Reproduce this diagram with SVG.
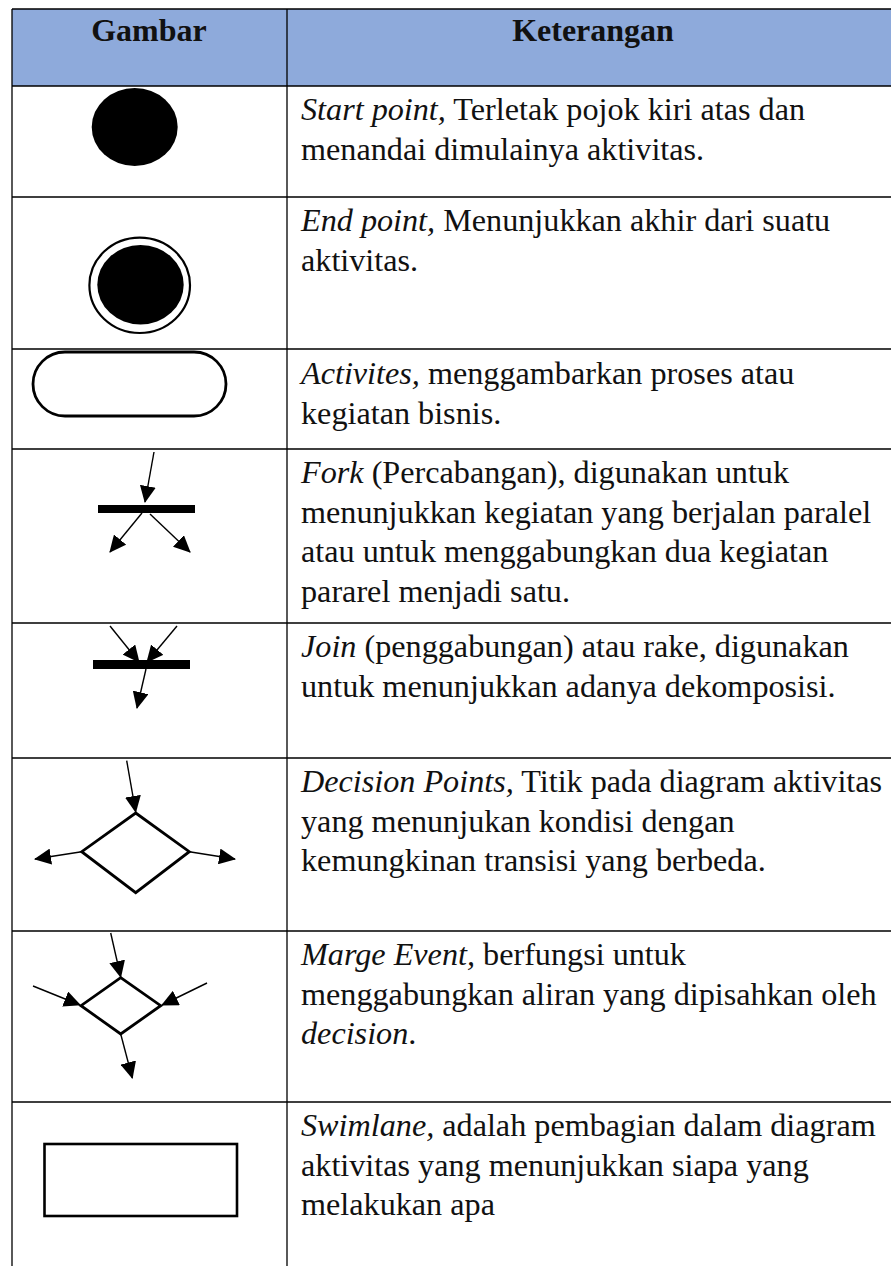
<svg xmlns="http://www.w3.org/2000/svg" width="891" height="1266" viewBox="0 0 891 1266">
  <defs>
    <style>
      .grid { stroke: #000; stroke-width: 1.3; fill: none; }
      .hdr { font-size: 32px; font-weight: bold; fill: #111; }
      .txt { font-size: 32.2px; fill: #111; }
      .it { font-style: italic; }
      .flow { stroke: #000; stroke-width: 1.4; fill: none; marker-end: url(#arrowhead); }
      .shape { stroke: #000; stroke-width: 2.8; fill: #fff; stroke-linejoin: miter; }
      .bar { fill: #000; }
    </style>
    <marker id="arrowhead" markerUnits="userSpaceOnUse" viewBox="0 0 17 16" markerWidth="17" markerHeight="16" refX="16" refY="8" orient="auto">
      <path d="M0,0 L17,8 L0,16 Z" fill="#000"/>
    </marker>
  </defs>

  <!-- table frame -->
  <g id="table">
    <rect x="12" y="9" width="879" height="77" fill="#8eaadb"/>
    <path class="grid" d="M12,9 H891 M12,86 H891 M12,197 H891 M12,349 H891 M12,449 H891 M12,623 H891 M12,758 H891 M12,931 H891 M12,1102 H891 M12,9 V1266 M287,9 V1266"/>
  </g>

  <!-- column headings -->
  <g id="header" font-family="Liberation Serif, Tinos, Times New Roman, Times, serif">
    <text class="hdr" x="149" y="41" text-anchor="middle">Gambar</text>
    <text class="hdr" x="593" y="41" text-anchor="middle">Keterangan</text>
  </g>

  <!-- symbol shapes -->
  <g id="start-point">
    <ellipse cx="134.7" cy="127" rx="43" ry="39" fill="#000"/>
  </g>

  <g id="end-point">
    <ellipse cx="139.7" cy="285.3" rx="50.3" ry="47.7" fill="none" stroke="#000" stroke-width="2.2"/>
    <ellipse cx="140.5" cy="284.7" rx="43.2" ry="39.7" fill="#000"/>
  </g>

  <g id="activity">
    <rect class="shape" x="33" y="352" width="193" height="64" rx="32" ry="32" stroke-width="2.2"/>
  </g>

  <g id="fork">
    <rect class="bar" x="98" y="505" width="97" height="8"/>
  </g>

  <g id="join">
    <rect class="bar" x="93" y="660" width="97" height="9"/>
  </g>

  <g id="decision">
    <path class="shape" d="M135.7,813 L189.3,851.7 L135.7,892.7 L81.7,851.7 Z"/>
  </g>

  <g id="merge">
    <path class="shape" d="M120.7,977.7 L160.7,1005.7 L120.7,1034 L81,1005.7 Z"/>
  </g>

  <g id="swimlane">
    <rect x="44.5" y="1144" width="192.5" height="72" fill="#fff" stroke="#000" stroke-width="2.6"/>
  </g>

  <!-- connectors -->
  <g id="connectors">
    <line class="flow" x1="154" y1="452" x2="145" y2="502"/>
    <line class="flow" x1="142" y1="513" x2="110" y2="552"/>
    <line class="flow" x1="150" y1="514" x2="190" y2="552"/>

    <line class="flow" x1="110" y1="626" x2="139" y2="662"/>
    <line class="flow" x1="177" y1="626" x2="147" y2="662"/>
    <line class="flow" x1="146" y1="669" x2="137" y2="708"/>

    <line class="flow" x1="126.7" y1="760.7" x2="135.7" y2="812"/>
    <line class="flow" x1="81.7" y1="851.7" x2="35" y2="859"/>
    <line class="flow" x1="189.3" y1="851.7" x2="235" y2="859"/>

    <line class="flow" x1="110.7" y1="933" x2="120.7" y2="977"/>
    <line class="flow" x1="33" y1="986" x2="80" y2="1005"/>
    <line class="flow" x1="207" y1="983" x2="162" y2="1005"/>
    <line class="flow" x1="120.7" y1="1034" x2="132.3" y2="1078"/>
  </g>

  <!-- descriptions -->
  <g id="descriptions" font-family="Liberation Serif, Tinos, Times New Roman, Times, serif">
    <text class="txt" x="301" y="120"><tspan class="it">Start point,</tspan> Terletak pojok kiri atas dan</text>
    <text class="txt" x="301" y="160">menandai dimulainya aktivitas.</text>

    <text class="txt" x="301" y="231"><tspan class="it">End point,</tspan> Menunjukkan akhir dari suatu</text>
    <text class="txt" x="301" y="271">aktivitas.</text>

    <text class="txt" x="301" y="384"><tspan class="it">Activites,</tspan> menggambarkan proses atau</text>
    <text class="txt" x="301" y="424">kegiatan bisnis.</text>

    <text class="txt" x="301" y="483"><tspan class="it">Fork</tspan> (Percabangan), digunakan untuk</text>
    <text class="txt" x="301" y="522.5">menunjukkan kegiatan yang berjalan paralel</text>
    <text class="txt" x="301" y="562">atau untuk menggabungkan dua kegiatan</text>
    <text class="txt" x="301" y="601.5">pararel menjadi satu.</text>

    <text class="txt" x="301" y="657"><tspan class="it">Join</tspan> (penggabungan) atau rake, digunakan</text>
    <text class="txt" x="301" y="696.5">untuk menunjukkan adanya dekomposisi.</text>

    <text class="txt" x="301" y="792"><tspan class="it">Decision Points,</tspan> Titik pada diagram aktivitas</text>
    <text class="txt" x="301" y="831.5">yang menunjukan kondisi dengan</text>
    <text class="txt" x="301" y="871">kemungkinan transisi yang berbeda.</text>

    <text class="txt" x="301" y="965"><tspan class="it">Marge Event,</tspan> berfungsi untuk</text>
    <text class="txt" x="301" y="1004.5">menggabungkan aliran yang dipisahkan oleh</text>
    <text class="txt" x="301" y="1044"><tspan class="it">decision</tspan>.</text>

    <text class="txt" x="301" y="1136"><tspan class="it">Swimlane,</tspan> adalah pembagian dalam diagram</text>
    <text class="txt" x="301" y="1175.5">aktivitas yang menunjukkan siapa yang</text>
    <text class="txt" x="301" y="1215">melakukan apa</text>
  </g>
</svg>
